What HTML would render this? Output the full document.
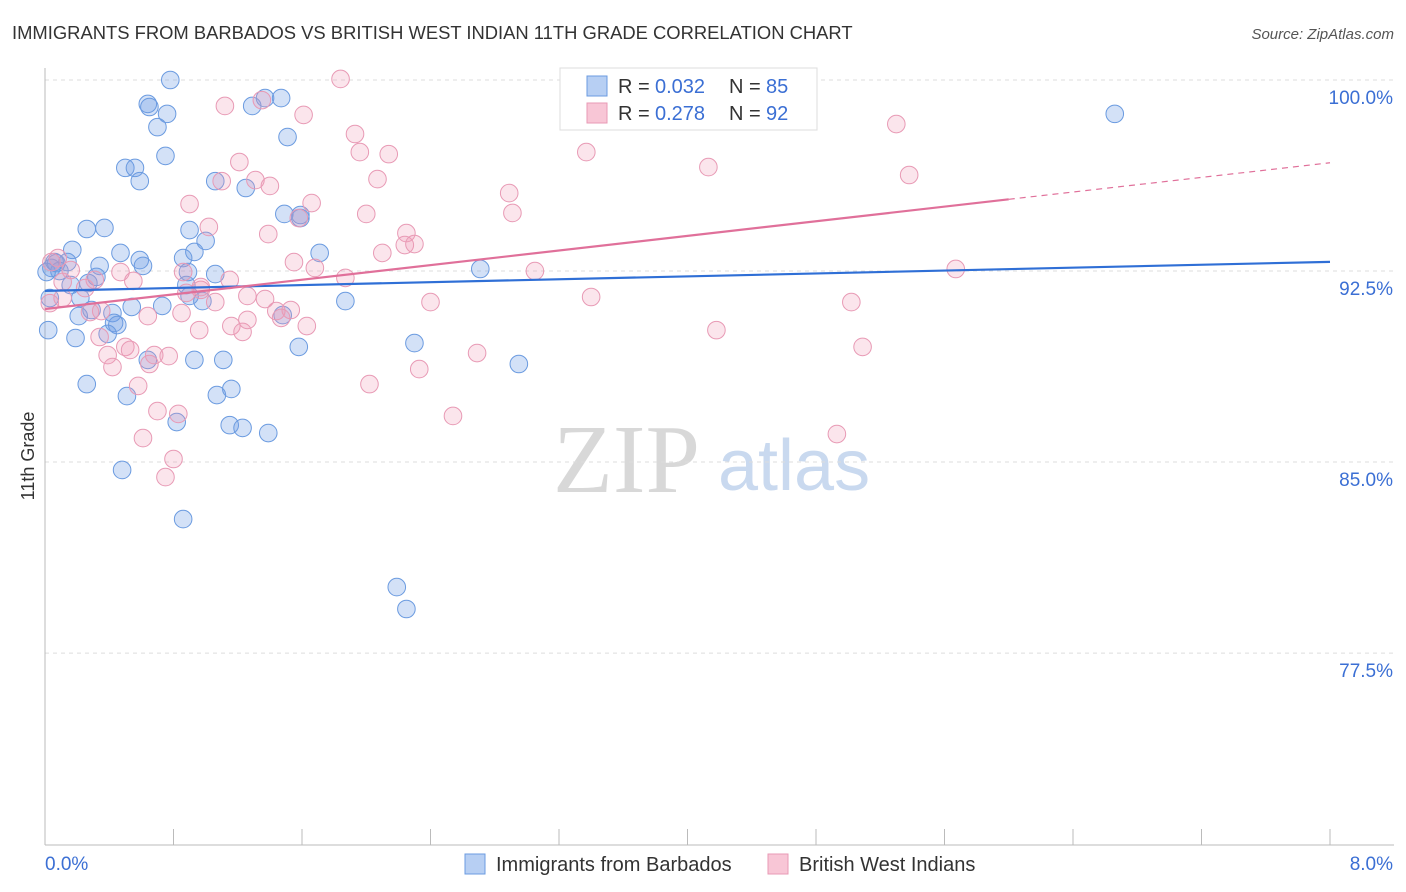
<!DOCTYPE html>
<html><head><meta charset="utf-8"><style>
body{margin:0;background:#fff;font-family:"Liberation Sans",sans-serif}
svg{display:block}
</style></head><body>
<svg id="c" width="1406" height="892" xmlns="http://www.w3.org/2000/svg">
<text x="12" y="39" font-size="18.4" fill="#333">IMMIGRANTS FROM BARBADOS VS BRITISH WEST INDIAN 11TH GRADE CORRELATION CHART</text>
<text x="1394" y="39" font-size="15" fill="#555" text-anchor="end" font-style="italic">Source: ZipAtlas.com</text>
<text transform="translate(34,456) rotate(-90)" font-size="18" fill="#333" text-anchor="middle">11th Grade</text>
<g><text x="553" y="492" font-size="98" font-family="Liberation Serif" fill="#d8d8d8">ZIP</text><text x="718" y="490" font-size="72" fill="#c9d9ef">atlas</text></g>
<g id="grid"></g><g id="pts"></g><g id="lines"></g>
<g>
<rect x="560" y="68" width="257" height="62" fill="#fff" stroke="#ddd"/>
<rect x="587" y="76" width="20" height="20" fill="#b7cff3" stroke="#6b9be0"/>
<rect x="587" y="103" width="20" height="20" fill="#f8c6d6" stroke="#e89ab5"/>
<text y="93" font-size="20" fill="#333"><tspan x="618">R =</tspan><tspan x="655" fill="#3b6fd4">0.032</tspan><tspan x="729">N =</tspan><tspan x="766" fill="#3b6fd4">85</tspan></text>
<text y="120" font-size="20" fill="#333"><tspan x="618">R =</tspan><tspan x="655" fill="#3b6fd4">0.278</tspan><tspan x="729">N =</tspan><tspan x="766" fill="#3b6fd4">92</tspan></text>
</g>
<g>
<rect x="465" y="854" width="20" height="20" fill="#b7cff3" stroke="#6b9be0"/>
<text x="496" y="871" font-size="20" fill="#333">Immigrants from Barbados</text>
<rect x="768" y="854" width="20" height="20" fill="#f8c6d6" stroke="#e89ab5"/>
<text x="799" y="871" font-size="20" fill="#333">British West Indians</text>
</g>
<text x="45" y="870" font-size="19" fill="#3b6fd4">0.0%</text>
<text x="1393" y="870" font-size="19" fill="#3b6fd4" text-anchor="end">8.0%</text>
</svg>
<script>
const yTicks=[100,92.5,85,77.5];
const yTickLabels=["100.0%","92.5%","85.0%","77.5%"];
const xTicks=[0,0.8,1.6,2.4,3.2,4,4.8,5.6,6.4,7.2,8];
const blueX=[.78,.64,.65,.76,.70,.75,.50,.56,.59,1.29,1.37,1.47,1.51,1.25,1.06,1.49,1.59,1.59,.26,.37,.90,1.00,.93,.86,.47,.17,.59,.61,.34,.32,.14,.07,.04,.09,.27,.16,.03,.22,.29,.42,.54,.43,.45,.39,.21,.73,.88,.90,.98,1.06,.89,1.48,1.58,1.71,1.87,2.71,2.30,2.95,.93,1.11,.64,.19,.02,.26,.51,1.07,1.16,1.15,1.23,1.39,.82,.48,.86,2.19,2.25,6.66,.01,.06];
const blueY=[100,99.06,98.94,98.67,98.15,97.02,96.55,96.55,96.03,98.98,99.29,99.29,97.76,95.76,96.03,94.74,94.70,94.58,94.15,94.19,94.11,93.68,93.25,93.01,93.21,93.33,92.93,92.70,92.70,92.27,92.85,92.81,92.62,92.50,92.03,91.95,91.44,91.44,90.97,90.85,91.09,90.46,90.38,90.03,90.73,91.13,91.95,91.52,91.32,92.38,92.46,90.77,89.52,93.21,91.32,92.58,89.67,88.85,89.01,89.01,89.01,89.87,90.18,88.06,87.59,87.63,87.87,86.45,86.34,86.14,86.57,84.69,82.76,80.09,79.23,98.67,92.46,92.85];
const pinkX=[1.84,1.12,1.35,1.61,1.93,1.96,2.14,2.07,1.21,1.10,1.31,1.40,.90,1.02,1.39,1.58,1.66,2.00,2.25,2.24,2.30,2.10,1.55,1.68,1.87,2.89,2.91,3.37,4.13,5.30,5.38,5.67,3.40,3.05,5.02,4.18,5.09,4.93,2.40,2.69,2.33,2.02,2.54,.04,.08,.16,.11,.25,.31,.47,.55,.86,.97,1.15,.88,1.06,1.26,1.37,1.44,1.53,1.63,1.16,1.23,1.26,.96,.85,.64,.34,.50,.53,.39,.42,.65,.68,.77,.58,.70,.83,.61,.80,.75,1.47,.28,.35,.11,.03,.97];
const pinkY=[100.04,98.98,99.21,98.63,97.88,97.17,97.09,96.11,96.78,96.03,96.07,95.84,95.13,94.23,93.95,94.58,95.17,94.74,93.99,93.52,93.56,93.21,92.85,92.62,92.23,95.56,94.78,97.17,96.58,98.27,96.27,92.58,91.48,92.50,91.28,90.18,89.52,86.10,91.28,89.28,88.65,88.06,86.81,92.85,93.01,92.54,92.07,91.83,92.15,92.46,92.11,92.46,91.76,92.15,91.64,91.28,91.52,91.40,90.93,90.97,90.34,90.34,90.11,90.58,90.18,90.85,90.73,89.91,89.52,89.40,89.20,88.73,88.85,89.20,89.16,87.99,87.00,86.89,85.94,85.12,84.41,90.66,90.89,90.93,91.44,91.24,91.87];
const blueTrend=[91.72,0.1425];
const pinkTrend=[91.01,0.7175];
const pinkSolidEnd=6.0;

const X0=45,X1=1330,YB=845;
const sx=v=>X0+v*(X1-X0)/8;
const sy=v=>80+(100-v)*25.47;
const NS="http://www.w3.org/2000/svg";
function mk(t,a,p){const e=document.createElementNS(NS,t);for(const k in a)e.setAttribute(k,a[k]);p.appendChild(e);return e;}
const grid=document.getElementById('grid');
yTicks.forEach((t,i)=>{
 const l=mk('line',{x1:X0,x2:1394,y1:sy(t),y2:sy(t),stroke:'#ddd','stroke-dasharray':'4,4'},grid);
 
 
 const tx=mk('text',{x:1393,y:sy(t)+24,'font-size':19,fill:'#3b6fd4','text-anchor':'end'},grid);
 tx.textContent=yTickLabels[i];
 
 
});
const ax=mk('line',{x1:X0,x2:X0,y1:68,y2:YB,stroke:'#bbb'},grid);


const bx=mk('line',{x1:X0,x2:1394,y1:YB,y2:YB,stroke:'#bbb'},grid);


xTicks.forEach(t=>{
 const l=mk('line',{x1:sx(t),x2:sx(t),y1:YB,y2:YB-16,stroke:'#bbb'},grid);
 
 
});
const pts=document.getElementById('pts');
function plot(xs,ys,fill,stroke,name){
 xs.forEach((x,i)=>{
  const c=mk('circle',{cx:sx(x),cy:sy(ys[i]),r:8.8,fill:fill,stroke:stroke,'stroke-width':1},pts);
  
  
 });
}
plot(blueX,blueY,'rgba(110,155,230,0.3)','#6b9be0','point-barbados');
plot(pinkX,pinkY,'rgba(240,150,180,0.25)','#e89ab5','point-bwi');
const lines=document.getElementById('lines');
const f=(tr,x)=>tr[0]+tr[1]*x;
const bl=mk('line',{x1:sx(0),y1:sy(f(blueTrend,0)),x2:sx(8),y2:sy(f(blueTrend,8)),stroke:'#2f6fd6','stroke-width':2.2},lines);


const pl=mk('line',{x1:sx(0),y1:sy(f(pinkTrend,0)),x2:sx(pinkSolidEnd),y2:sy(f(pinkTrend,pinkSolidEnd)),stroke:'#e0709a','stroke-width':2.2},lines);


const pd=mk('line',{x1:sx(pinkSolidEnd),y1:sy(f(pinkTrend,pinkSolidEnd)),x2:sx(8),y2:sy(f(pinkTrend,8)),stroke:'#e0709a','stroke-width':1.2,'stroke-dasharray':'6,5'},lines);


</script>
</body></html>
